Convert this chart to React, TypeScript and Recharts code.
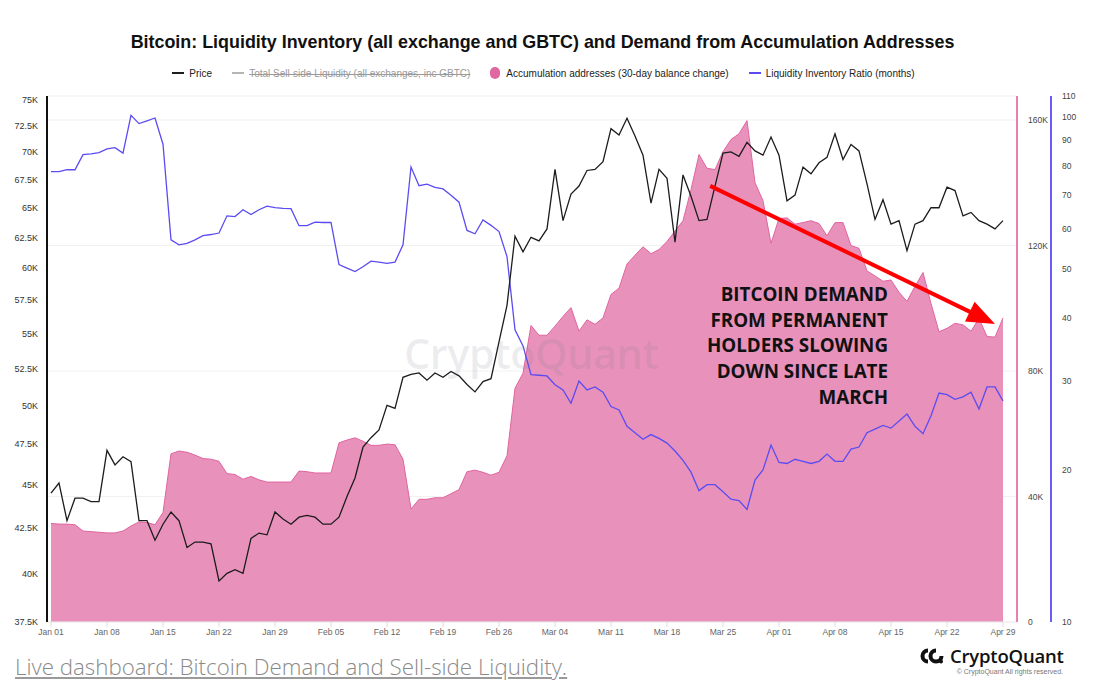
import { ComposedChart, Area, Line, XAxis, YAxis, CartesianGrid, ReferenceLine } from 'recharts'

// daily values, Jan 01 .. Apr 29 (120 days)
const xTickLabels = [
  'Jan 01', 'Jan 08', 'Jan 15', 'Jan 22', 'Jan 29', 'Feb 05', 'Feb 12', 'Feb 19', 'Feb 26',
  'Mar 04', 'Mar 11', 'Mar 18', 'Mar 25', 'Apr 01', 'Apr 08', 'Apr 15', 'Apr 22', 'Apr 29',
]

// BTC price, thousands of USD
const priceK = [
  44.5, 45.1, 42.9, 44.2, 44.2, 44.0, 44.0, 47.1, 46.2, 46.7,
  46.4, 42.9, 42.9, 41.8, 42.7, 43.4, 42.9, 41.4, 41.7, 41.7,
  41.6, 39.6, 40.0, 40.2, 40.0, 41.9, 42.2, 42.1, 43.4, 43.0,
  42.7, 43.1, 43.2, 43.1, 42.7, 42.7, 43.1, 44.3, 45.4, 47.3,
  47.9, 48.4, 50.0, 49.8, 51.9, 52.1, 52.2, 51.7, 52.2, 51.9,
  52.3, 52.0, 51.4, 50.9, 51.6, 51.8, 54.4, 57.1, 62.6, 61.3,
  62.5, 62.2, 63.2, 68.4, 63.9, 66.2, 66.9, 68.3, 68.4, 69.1,
  72.2, 71.6, 73.2, 71.5, 69.7, 65.4, 68.4, 67.6, 62.1, 67.9,
  66.0, 63.9, 64.0, 66.9, 69.9, 70.0, 69.6, 70.9, 70.1, 69.7,
  71.4, 69.7, 65.6, 66.1, 68.6, 68.0, 69.0, 69.5, 71.7, 69.3,
  70.7, 70.1, 67.1, 64.0, 65.7, 63.6, 63.9, 61.4, 63.6, 63.9,
  65.0, 65.0, 66.8, 66.5, 64.3, 64.6, 63.9, 63.6, 63.2, 63.9,
]

// accumulation addresses, 30-day balance change, thousands of BTC
const accumulationK = [
  31.4, 31.2, 31.2, 31.0, 29.0, 28.8, 28.6, 28.4, 28.4, 29.0,
  30.6, 31.9, 31.7, 31.0, 34.9, 53.6, 54.5, 54.1, 53.2, 52.1,
  51.9, 51.2, 47.3, 47.0, 45.5, 46.4, 45.3, 44.6, 44.6, 44.6,
  44.6, 48.1, 47.9, 47.5, 47.5, 47.5, 57.1, 58.0, 58.7, 57.6,
  56.3, 56.3, 56.7, 56.5, 51.9, 36.0, 39.1, 39.1, 39.6, 39.6,
  40.9, 42.2, 47.9, 48.4, 47.7, 46.8, 47.7, 53.0, 74.5, 79.3,
  94.5, 91.4, 91.4, 94.3, 97.4, 100.2, 92.7, 96.3, 94.9, 96.9,
  104.4, 106.4, 114.1, 116.9, 119.6, 117.4, 118.7, 121.3, 124.6, 127.9,
  137.8, 149.0, 144.6, 144.2, 149.9, 153.8, 155.6, 159.8, 140.0, 134.3,
  120.7, 128.6, 128.8, 126.8, 127.3, 127.9, 127.0, 123.1, 127.3, 127.3,
  120.0, 119.1, 111.9, 110.3, 108.6, 109.0, 105.1, 102.2, 107.0, 111.4,
  101.5, 92.5, 93.6, 95.2, 94.7, 92.7, 96.7, 91.0, 90.8, 96.9,
]

// liquidity inventory ratio, months
const inventoryMonths = [
  77.9, 77.9, 78.6, 78.6, 84.2, 84.5, 85.0, 86.4, 86.9, 84.8,
  100.7, 97.0, 98.2, 99.5, 88.3, 57.1, 55.8, 56.2, 57.1, 58.2,
  58.5, 58.9, 63.7, 63.5, 65.5, 64.1, 65.5, 66.6, 66.1, 65.9,
  65.8, 60.9, 60.9, 61.9, 61.8, 61.8, 51.0, 50.2, 49.4, 50.5,
  51.8, 51.6, 51.3, 51.6, 55.8, 79.6, 73.1, 73.6, 72.5, 72.0,
  70.0, 67.8, 59.6, 58.7, 62.5, 61.0, 59.3, 52.9, 37.9, 35.2,
  30.9, 30.8, 30.7, 29.5, 28.8, 27.1, 30.0, 28.8, 29.2, 28.5,
  26.7, 26.3, 24.4, 23.7, 23.0, 23.5, 23.1, 22.6, 21.8, 20.9,
  19.8, 18.2, 18.7, 18.7, 18.1, 17.5, 17.4, 16.7, 19.1, 20.0,
  22.4, 20.7, 20.6, 21.0, 20.8, 20.6, 20.8, 21.5, 20.8, 20.8,
  22.0, 22.2, 23.7, 24.1, 24.5, 24.2, 25.0, 25.8, 24.4, 23.6,
  25.6, 28.4, 28.2, 27.6, 27.9, 28.5, 26.4, 29.2, 29.2, 27.4,
]

const priceTicks = [37.5, 40, 42.5, 45, 47.5, 50, 52.5, 55, 57.5, 60, 62.5, 65, 67.5, 70, 72.5, 75]
const accTicks = [0, 40, 80, 120, 160]
const ratioTicks = [10, 20, 30, 40, 50, 60, 70, 80, 90, 100, 110]

// annotation arrow: start / end in (day, accumulation K)
const arrowFrom = { x: 82.4, y: 139 }
const arrowTo = { x: 118, y: 95 }

const annotationLines = [
  'BITCOIN DEMAND',
  'FROM PERMANENT',
  'HOLDERS SLOWING',
  'DOWN SINCE LATE',
  'MARCH',
]

const data = priceK.map((price, day) => ({
  day,
  price,
  accumulation: accumulationK[day],
  ratio: inventoryMonths[day],
}))

const xTicks = xTickLabels.map((_, i) => i * 7)

const PINK = '#e892bb'
const PINK_LINE = '#e0649f'
const BLUE = '#5b4cf2'
const BLACK = '#1c1c1c'

function RedArrow(props: any) {
  const { x1, y1, x2, y2 } = props
  if (x1 == null || x2 == null) return null
  const dx = x2 - x1
  const dy = y2 - y1
  const len = Math.hypot(dx, dy)
  const ux = dx / len
  const uy = dy / len
  const head = 28
  const half = 11
  const bx = x2 - ux * head
  const by = y2 - uy * head
  return (
    <g>
      <line x1={x1} y1={y1} x2={bx + ux * 2} y2={by + uy * 2} stroke="#ff0000" strokeWidth={4} />
      <polygon
        points={`${x2},${y2} ${bx - uy * half},${by + ux * half} ${bx + uy * half},${by - ux * half}`}
        fill="#ff0000"
      />
    </g>
  )
}

function LegendItem({ kind, color, label, off }: { kind: 'line' | 'dot'; color: string; label: string; off?: boolean }) {
  return (
    <span style={{ display: 'inline-flex', alignItems: 'center', marginRight: 20 }}>
      {kind === 'line' ? (
        <span style={{ width: 12, height: 2, background: color, display: 'inline-block', marginRight: 5 }} />
      ) : (
        <span style={{ width: 10, height: 12, borderRadius: 6, background: color, display: 'inline-block', marginRight: 6 }} />
      )}
      <span style={{ color: off ? '#9a9a9a' : '#222', textDecoration: off ? 'line-through' : 'none' }}>{label}</span>
    </span>
  )
}

export default function App() {
  return (
    <div
      style={{
        position: 'absolute',
        left: 0,
        top: 0,
        width: 1093,
        height: 697,
        background: '#fff',
        fontFamily: '"Liberation Sans", Arial, sans-serif',
        overflow: 'hidden',
      }}
    >
      <div
        style={{
          position: 'absolute',
          top: 32,
          left: 0,
          width: 1093,
          textAlign: 'center',
          fontSize: 17.9,
          fontWeight: 700,
          color: '#111',
          marginLeft: -4,
        }}
      >
        Bitcoin: Liquidity Inventory (all exchange and GBTC) and Demand from Accumulation Addresses
      </div>

      <div
        style={{
          position: 'absolute',
          top: 67,
          left: 0,
          width: 1093,
          display: 'flex',
          justifyContent: 'center',
          fontSize: 10,
          marginLeft: 7,
        }}
      >
        <LegendItem kind="line" color={BLACK} label="Price" />
        <LegendItem kind="line" color="#b5b5b5" label="Total Sell-side Liquidity (all exchanges, inc GBTC)" off />
        <LegendItem kind="dot" color="#e0679f" label="Accumulation addresses (30-day balance change)" />
        <LegendItem kind="line" color={BLUE} label="Liquidity Inventory Ratio (months)" />
      </div>

      <div style={{ position: 'absolute', left: 0, top: 0 }}>
        <ComposedChart width={1093} height={697} data={data} margin={{ top: 96, right: 12, bottom: 55, left: 7 }}>
          <CartesianGrid yAxisId="acc" vertical={false} stroke="#f1f1f1" />
          <XAxis
            dataKey="day"
            type="number"
            domain={[-0.5, 120.75]}
            ticks={xTicks}
            tickFormatter={(v: number) => xTickLabels[Math.round(v / 7)]}
            interval={0}
            height={20}
            tick={{ fill: '#666', fontSize: 8.5 }}
            tickLine={{ stroke: '#ddd' }}
            tickSize={5}
            tickMargin={2}
            axisLine={{ stroke: '#eee' }}
            allowDataOverflow
          />
          <YAxis
            yAxisId="price"
            orientation="left"
            scale="log"
            type="number"
            domain={[37.5, 75.4]}
            ticks={priceTicks}
            interval={0}
            tickFormatter={(v: number) => `${v}K`}
            width={40}
            tick={{ fill: '#333', fontSize: 9 }}
            tickLine={false}
            tickSize={6}
            tickMargin={3}
            axisLine={{ stroke: '#111', strokeWidth: 2 }}
            allowDataOverflow
          />
          <YAxis
            yAxisId="acc"
            orientation="right"
            type="number"
            domain={[0, 167.65]}
            ticks={accTicks}
            interval={0}
            tickFormatter={(v: number) => (v === 0 ? '0' : `${v}K`)}
            width={34}
            tick={{ fill: '#444', fontSize: 8.5 }}
            tickLine={false}
            tickSize={6}
            tickMargin={5}
            axisLine={{ stroke: '#e97fb5', strokeWidth: 2 }}
            allowDataOverflow
          />
          <YAxis
            yAxisId="ratio"
            orientation="right"
            scale="log"
            type="number"
            domain={[10, 110]}
            ticks={ratioTicks}
            interval={0}
            width={30}
            tick={{ fill: '#444', fontSize: 8.5 }}
            tickLine={false}
            tickSize={6}
            tickMargin={5}
            axisLine={{ stroke: '#6a5cf6', strokeWidth: 2 }}
            allowDataOverflow
          />
          <Area
            yAxisId="acc"
            type="linear"
            dataKey="accumulation"
            fill={PINK}
            fillOpacity={1}
            stroke={PINK_LINE}
            strokeWidth={1}
            isAnimationActive={false}
          />
          <Line
            yAxisId="ratio"
            type="linear"
            dataKey="ratio"
            stroke={BLUE}
            strokeWidth={1.3}
            dot={false}
            isAnimationActive={false}
          />
          <Line
            yAxisId="price"
            type="linear"
            dataKey="price"
            stroke={BLACK}
            strokeWidth={1.3}
            dot={false}
            isAnimationActive={false}
          />
          <ReferenceLine
            yAxisId="acc"
            segment={[arrowFrom, arrowTo]}
            shape={RedArrow}
            ifOverflow="visible"
          />
        </ComposedChart>
      </div>

      {/* watermark */}
      <div
        style={{
          position: 'absolute',
          left: 404,
          top: 325,
          fontFamily: '"Open Sans", sans-serif',
          fontSize: 41.5,
          fontWeight: 600,
          color: 'rgba(110,110,130,0.12)',
          pointerEvents: 'none',
          letterSpacing: -0.5,
        }}
      >
        CryptoQuant
      </div>

      <div
        style={{
          position: 'absolute',
          right: 1093 - 888,
          top: 282,
          textAlign: 'right',
          fontFamily: '"Open Sans", sans-serif',
          fontWeight: 700,
          fontSize: 18.8,
          lineHeight: '25.7px',
          color: '#111',
          whiteSpace: 'nowrap',
        }}
      >
        {annotationLines.map((l) => (
          <div key={l}>{l}</div>
        ))}
      </div>

      <div
        style={{
          position: 'absolute',
          left: 15,
          top: 652,
          fontFamily: '"Open Sans", sans-serif',
          fontWeight: 300,
          fontSize: 22.3,
          lineHeight: '30px',
          color: '#8a8a8a',
          textDecoration: 'underline',
          textDecorationColor: '#9a9a9a',
        }}
      >
        Live dashboard: Bitcoin Demand and Sell-side Liquidity.
      </div>

      <div style={{ position: 'absolute', left: 920, top: 643, display: 'flex', alignItems: 'center' }}>
        <svg width={24} height={18} viewBox="0 0 24 18">
          <path d="M8 1.5 A7.5 7.5 0 0 0 8 16.5 L8 12.5 A3.5 3.5 0 0 1 8 5.5 Z" fill="#111" />
          <path d="M16 1.5 A7.5 7.5 0 1 0 23.5 9 L19.5 9 A3.5 3.5 0 1 1 16 5.5 Z" fill="#111" />
          <circle cx={21} cy={14.5} r={2} fill="#111" />
        </svg>
        <span
          style={{
            fontFamily: '"Open Sans", sans-serif',
            fontSize: 18.5,
            fontWeight: 600,
            color: '#111',
            marginLeft: 6,
            letterSpacing: -0.2,
          }}
        >
          CryptoQuant
        </span>
      </div>
      <div
        style={{
          position: 'absolute',
          right: 1093 - 1063,
          top: 668,
          fontSize: 7,
          color: '#777',
        }}
      >
        © CryptoQuant All rights reserved.
      </div>
    </div>
  )
}
